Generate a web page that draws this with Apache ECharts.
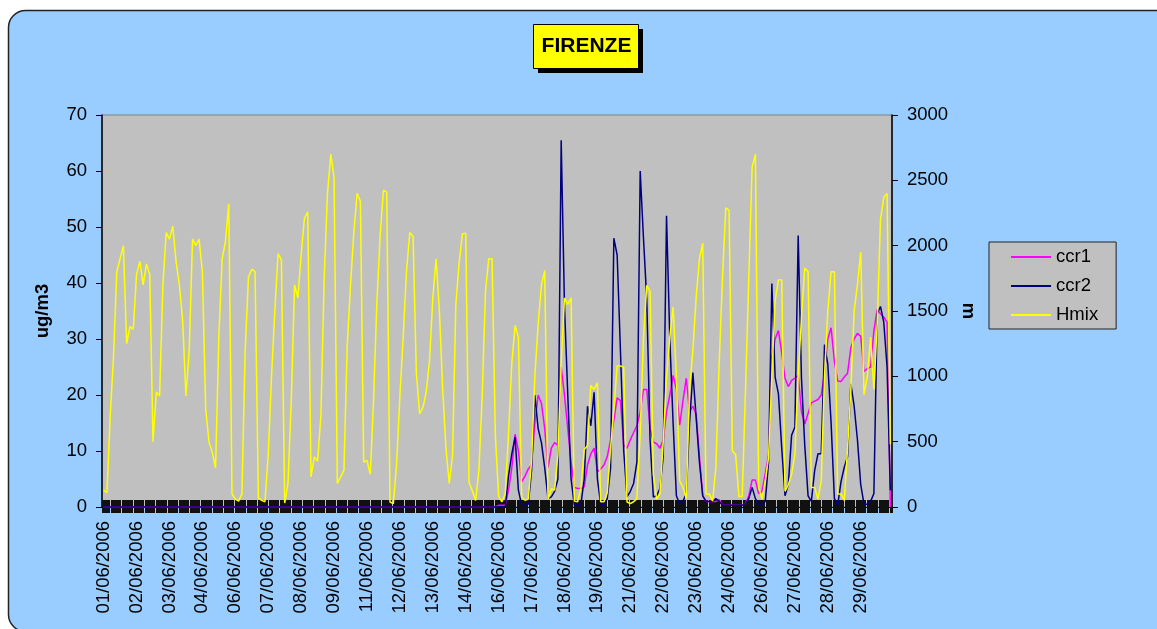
<!DOCTYPE html>
<html>
<head>
<meta charset="utf-8">
<title>FIRENZE</title>
<script src="https://cdn.jsdelivr.net/npm/echarts@6/dist/echarts.min.js"></script>
<style>
  html, body { margin: 0; padding: 0; background: #fff; }
  #main { width: 1157px; height: 629px; }
</style>
</head>
<body>
<div id="main"></div>
<script>
  // 3-hourly samples, 01/06/2006 00:00 -> 30/06/2006 21:00 (8 per day)
  const days = 30
  const perDay = 8

  // Hmix (m), right axis
  const hmix = [
    130, 110, 700, 1150, 1800, 1900, 2000, 1250, // 01
    1380, 1360, 1780, 1880, 1700, 1860, 1780, 500, // 02
    880, 850, 1700, 2100, 2050, 2150, 1880, 1700, // 03
    1430, 850, 1200, 2050, 2000, 2050, 1800, 750, // 04
    500, 420, 300, 1300, 1900, 2030, 2320, 100, // 05
    60, 45, 100, 1200, 1760, 1820, 1800, 70, // 06
    51, 40, 400, 1000, 1500, 1940, 1890, 30, // 07
    180, 817, 1700, 1600, 1930, 2210, 2258, 230, // 08
    383, 350, 700, 1750, 2400, 2700, 2520, 180, // 09
    230, 280, 1237, 1700, 2100, 2400, 2340, 344, // 10
    357, 250, 817, 1560, 2080, 2424, 2410, 38, // 11
    26, 330, 850, 1300, 1800, 2100, 2070, 1025, // 12
    715, 760, 880, 1120, 1600, 1900, 1500, 900, // 13
    450, 180, 400, 1550, 1870, 2090, 2095, 190, // 14
    125, 50, 280, 850, 1650, 1900, 1900, 550, // 15
    80, 40, 100, 560, 1100, 1390, 1300, 77, // 16
    51, 60, 350, 1000, 1400, 1700, 1810, 60, // 17
    140, 130, 400, 1100, 1600, 1550, 1600, 45, // 18
    40, 150, 440, 470, 930, 900, 950, 40, // 19
    40, 110, 450, 750, 1080, 1080, 1070, 38, // 20
    26, 40, 64, 560, 1300, 1697, 1650, 250, // 21
    60, 100, 500, 1000, 1300, 1530, 1000, 200, // 22
    150, 64, 900, 1200, 1600, 1900, 2020, 100, // 23
    100, 45, 306, 1100, 1750, 2290, 2270, 430, // 24
    400, 80, 80, 900, 1750, 2600, 2700, 150, // 25
    60, 200, 380, 1000, 1580, 1740, 1740, 120, // 26
    170, 250, 400, 1000, 1450, 1830, 1800, 150, // 27
    150, 60, 200, 1000, 1500, 1800, 1800, 100, // 28
    100, 51, 450, 900, 1500, 1700, 1950, 860, // 29
    1000, 1300, 900, 1400, 2200, 2370, 2400, 480 // 30
  ]

  // ccr1 (ug/m3), left axis
  const ccr1 = [
    0, 0, 0, 0, 0, 0, 0, 0, 0, 0, 0, 0, 0, 0, 0, 0, 0, 0, 0, 0, 0, 0, 0, 0, // 01-03
    0, 0, 0, 0, 0, 0, 0, 0, 0, 0, 0, 0, 0, 0, 0, 0, 0, 0, 0, 0, 0, 0, 0, 0, // 04-06
    0, 0, 0, 0, 0, 0, 0, 0, 0, 0, 0, 0, 0, 0, 0, 0, 0, 0, 0, 0, 0, 0, 0, 0, // 07-09
    0, 0, 0, 0, 0, 0, 0, 0, 0, 0, 0, 0, 0, 0, 0, 0, 0, 0, 0, 0, 0, 0, 0, 0, // 10-12
    0, 0, 0, 0, 0, 0, 0, 0, 0, 0, 0, 0, 0, 0, 0, 0, 0, 0, 0, 0, 0, 0, 0, 0, // 13-15
    0.3, 0.3, 0.3, 3, 7, 13, 10, 4.5, // 16
    5.5, 6.8, 7.5, 15, 20, 18.5, 14, 7, // 17
    10.5, 11.5, 11, 25, 20, 14, 8, 3.5, // 18
    3.3, 3.3, 3.6, 7.5, 9.5, 10.5, 6.3, 6.8, // 19
    7.5, 9, 12, 15.5, 19.5, 19, 11, 10.5, // 20
    12, 13.3, 14.5, 17, 21, 21, 14, 11.6, // 21
    11.3, 10.5, 12, 17, 20, 23.5, 21, 14.6, // 22
    19, 23, 17, 18, 16.5, 9, 2, 1, // 23
    1, 1, 1, 1.3, 0.3, 0.3, 0.3, 0.3, // 24
    0.3, 0.3, 0.3, 0.6, 2, 4.8, 4.8, 2.4, // 25
    2.8, 6, 9.2, 26.8, 30, 31.5, 27.5, 23, // 26
    21.5, 22.6, 23, 23.5, 17, 14.8, 16.7, 18.6, // 27
    18.9, 19.2, 20, 24, 30, 32, 26, 22.5, // 28
    22.4, 23.2, 23.9, 28.5, 30, 31, 30.5, 24.2, // 29
    24.7, 25, 31.5, 35.3, 34.5, 33.9, 33, 0 // 30
  ]

  // ccr2 (ug/m3), left axis
  const ccr2 = [
    0, 0, 0, 0, 0, 0, 0, 0, 0, 0, 0, 0, 0, 0, 0, 0, 0, 0, 0, 0, 0, 0, 0, 0, // 01-03
    0, 0, 0, 0, 0, 0, 0, 0, 0, 0, 0, 0, 0, 0, 0, 0, 0, 0, 0, 0, 0, 0, 0, 0, // 04-06
    0, 0, 0, 0, 0, 0, 0, 0, 0, 0, 0, 0, 0, 0, 0, 0, 0, 0, 0, 0, 0, 0, 0, 0, // 07-09
    0, 0, 0, 0, 0, 0, 0, 0, 0, 0, 0, 0, 0, 0, 0, 0, 0, 0, 0, 0, 0, 0, 0, 0, // 10-12
    0, 0, 0, 0, 0, 0, 0, 0, 0, 0, 0, 0, 0, 0, 0, 0, 0, 0, 0, 0, 0, 0, 0, 0, // 13-15
    0, 0, 0, 5.5, 9.5, 12.5, 3, 0.3, // 16
    0.3, 0.5, 6.5, 20, 14, 11.5, 7, 1.5, // 17
    1.8, 2.8, 5, 65.5, 36, 20, 5, 0.3, // 18
    0.3, 0.5, 5, 18, 14.5, 20.5, 5, 0.5, // 19
    0.3, 1.5, 7, 48, 45, 28, 10, 1.8, // 20
    2.8, 4.2, 8, 60, 48, 37, 12, 1.8, // 21
    2, 3.3, 9, 52, 30, 15, 2, 0.5, // 22
    1, 2.4, 15, 24, 16, 8, 2, 1, // 23
    1, 1, 1.5, 1, 0.3, 0.3, 0.3, 0.3, // 24
    0.3, 0.3, 0.3, 0.6, 1.5, 3.5, 1.5, 0.5, // 25
    0.5, 1, 8, 39.9, 23.2, 20.2, 10.5, 2, // 26
    4, 12.8, 14.3, 48.5, 23, 11, 2, 1, // 27
    6.5, 9.5, 9.5, 29, 25.5, 15, 1.5, 0.3, // 28
    4.5, 7.1, 9, 22, 18, 12, 4, 0.5, // 29
    0.5, 1, 2.4, 34.5, 35.8, 33, 25, 3 // 30
  ]

  // category labels (date of each sample) and hourly ticks
  const categories = []
  for (let d = 1; d <= days; d++) {
    for (let i = 0; i < perDay; i++) {
      categories.push(String(d).padStart(2, '0') + '/06/2006')
    }
  }
  const hours = []
  for (let d = 1; d <= days; d++) {
    for (let h = 0; h < 24; h++) {
      hours.push(d + '/' + h)
    }
  }

  const font = 'Liberation Sans, Arial, sans-serif'
  const fs = 18.5

  const myChart = echarts.init(document.getElementById('main'))

  // hidden axis that only draws the dense hourly ticks
  const tickAxis = (inside, length) => ({
    type: 'category',
    position: 'bottom',
    data: hours,
    boundaryGap: true,
    axisLine: { show: false },
    axisLabel: { show: false },
    splitLine: { show: false },
    axisTick: {
      show: true,
      interval: 0,
      inside: inside,
      length: length,
      lineStyle: { color: '#111', width: 1 }
    }
  })

  const option = {
    animation: false,
    backgroundColor: '#fff',
    textStyle: { fontFamily: font },
    graphic: [
      {
        type: 'rect',
        z: -100,
        shape: { x: 8.5, y: 10.5, width: 1170, height: 621, r: 17 },
        style: { fill: '#99CCFF', stroke: '#222', lineWidth: 1.5 }
      },
      // title box with shadow
      {
        type: 'rect',
        shape: { x: 538, y: 29, width: 105, height: 44 },
        style: { fill: '#000' }
      },
      {
        type: 'rect',
        shape: { x: 533.5, y: 24.5, width: 105, height: 44 },
        style: { fill: '#FFFF00', stroke: '#000', lineWidth: 1 }
      },
      {
        type: 'text',
        style: {
          x: 586.5,
          y: 46,
          text: 'FIRENZE',
          align: 'center',
          verticalAlign: 'middle',
          fill: '#000',
          font: 'bold 21px ' + font
        }
      }
    ],
    legend: {
      data: ['ccr1', 'ccr2', 'Hmix'],
      orient: 'vertical',
      left: 989,
      top: 242,
      backgroundColor: '#C0C0C0',
      borderColor: '#222',
      borderWidth: 1,
      borderRadius: 0,
      padding: [5, 18, 4, 22],
      itemGap: 9,
      itemWidth: 40,
      itemHeight: 2,
      icon: 'rect',
      textStyle: { fontSize: fs, color: '#000', lineHeight: 20, fontFamily: font }
    },
    grid: {
      left: 102,
      right: 265,
      top: 115,
      bottom: 122,
      show: true,
      backgroundColor: '#C0C0C0',
      borderColor: '#808080',
      borderWidth: 1
    },
    xAxis: [
      {
        type: 'category',
        data: categories,
        boundaryGap: true,
        axisLine: { show: true, onZero: false, lineStyle: { color: '#000', width: 1 } },
        axisTick: { show: false },
        splitLine: { show: false },
        axisLabel: {
          interval: perDay * 1.25 - 1,
          rotate: 90,
          margin: 14,
          fontSize: fs,
          color: '#000',
          fontFamily: font
        }
      },
      tickAxis(true, 7),
      tickAxis(false, 6)
    ],
    yAxis: [
      {
        type: 'value',
        min: 0,
        max: 70,
        interval: 10,
        name: 'ug/m3',
        nameLocation: 'middle',
        nameRotate: 90,
        nameGap: 50,
        nameTextStyle: { fontSize: fs, fontWeight: 'bold', color: '#000', fontFamily: font },
        axisLine: { show: true, lineStyle: { color: '#000', width: 1.5 } },
        axisTick: { show: true, length: 6, lineStyle: { color: '#000' } },
        splitLine: { show: false },
        axisLabel: { fontSize: fs, color: '#000', margin: 15, fontFamily: font }
      },
      {
        type: 'value',
        position: 'right',
        min: 0,
        max: 3000,
        interval: 500,
        name: 'm',
        nameLocation: 'middle',
        nameRotate: -90,
        nameGap: 67,
        nameTextStyle: { fontSize: fs, fontWeight: 'bold', color: '#000', fontFamily: font },
        axisLine: { show: true, lineStyle: { color: '#000', width: 1.5 } },
        axisTick: { show: true, length: 6, lineStyle: { color: '#000' } },
        splitLine: { show: false },
        axisLabel: {
          fontSize: fs,
          color: '#000',
          margin: 15,
          fontFamily: font,
          formatter: (v) => String(v)
        }
      }
    ],
    series: [
      {
        name: 'ccr1',
        type: 'line',
        data: ccr1,
        yAxisIndex: 0,
        symbol: 'none',
        color: '#FF00FF',
        lineStyle: { width: 1.5, color: '#FF00FF' }
      },
      {
        name: 'ccr2',
        type: 'line',
        data: ccr2,
        yAxisIndex: 0,
        symbol: 'none',
        color: '#000080',
        lineStyle: { width: 1.5, color: '#000080' }
      },
      {
        name: 'Hmix',
        type: 'line',
        data: hmix,
        yAxisIndex: 1,
        symbol: 'none',
        color: '#FFFF00',
        lineStyle: { width: 1.5, color: '#FFFF00' }
      }
    ]
  }

  myChart.setOption(option)
</script>
</body>
</html>
